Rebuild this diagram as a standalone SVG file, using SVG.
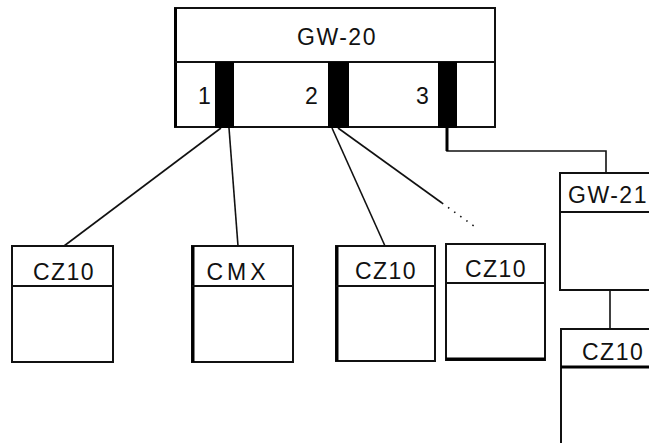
<svg xmlns="http://www.w3.org/2000/svg" width="649" height="443" viewBox="0 0 649 443">
<style>
.box{fill:#fff;stroke:#111;stroke-width:2}
.div{stroke:#111;stroke-width:2}
.thick{stroke:#000;stroke-width:3}
.port{fill:#000}
.lbl{font-family:"Liberation Sans",Arial,sans-serif;font-size:23px;fill:#111;letter-spacing:1.5px}
.con{stroke:#111;stroke-width:1.6;fill:none}
</style>
<rect width="649" height="443" fill="#fff"/>
<g id="connectors">
<line class="con" x1="221" y1="128" x2="64" y2="246"/>
<line class="con" x1="229" y1="128" x2="238" y2="246"/>
<line class="con" x1="332" y1="128" x2="385" y2="246" stroke-width="2"/>
<line class="con" x1="338" y1="128" x2="442" y2="203"/>
<line class="con" x1="442" y1="203" x2="478" y2="229" stroke-dasharray="1.5 6"/>
<polyline class="con" points="447,127 447,151 606,151 606,173"/>
<line class="thick" x1="447" y1="127" x2="447" y2="151"/>
<line class="con" x1="610" y1="290" x2="610" y2="329"/>
</g>
<g id="gw20">
<rect class="box" x="175" y="8" width="320" height="119"/>
<line class="thick" x1="175.5" y1="8" x2="175.5" y2="127"/>
<line class="div" x1="175" y1="62" x2="495" y2="62"/>
<rect class="port" x="215" y="62" width="19" height="66"/>
<rect class="port" x="328" y="62" width="21" height="66"/>
<rect class="port" x="438" y="62" width="19" height="66"/>
<text class="lbl" x="337" y="45" text-anchor="middle">GW-20</text>
<text class="lbl" x="198" y="104">1</text>
<text class="lbl" x="305" y="104">2</text>
<text class="lbl" x="416" y="104">3</text>
</g>
<g id="cz10-1">
<rect class="box" x="12" y="246" width="101" height="116"/>
<line class="div" x1="12" y1="286" x2="113" y2="286"/>
<text class="lbl" x="64" y="280" text-anchor="middle">CZ10</text>
</g>
<g id="cmx">
<rect class="box" x="192" y="246" width="101" height="116"/>
<line class="thick" x1="193" y1="246" x2="193" y2="362"/>
<line class="div" x1="192" y1="286" x2="293" y2="286"/>
<text class="lbl" x="238" y="280" text-anchor="middle" style="letter-spacing:4px">CMX</text>
</g>
<g id="cz10-3">
<rect class="box" x="336" y="246" width="99" height="115"/>
<line class="thick" x1="337" y1="246" x2="337" y2="361"/>
<line class="div" x1="336" y1="286" x2="435" y2="286"/>
<text class="lbl" x="386" y="279" text-anchor="middle">CZ10</text>
</g>
<g id="cz10-4">
<rect class="box" x="446" y="244" width="99" height="116"/>
<line class="thick" x1="446" y1="359" x2="545" y2="359"/>
<line class="div" x1="446" y1="283" x2="545" y2="283"/>
<text class="lbl" x="496" y="277" text-anchor="middle">CZ10</text>
</g>
<g id="gw21">
<rect class="box" x="560" y="173" width="100" height="117"/>
<line class="div" x1="560" y1="212" x2="649" y2="212"/>
<text class="lbl" x="568" y="203">GW-21</text>
</g>
<g id="cz10-5">
<rect class="box" x="561" y="329" width="100" height="130"/>
<line class="thick" x1="561" y1="367" x2="649" y2="367"/>
<text class="lbl" x="582" y="360">CZ10</text>
</g>
</svg>
